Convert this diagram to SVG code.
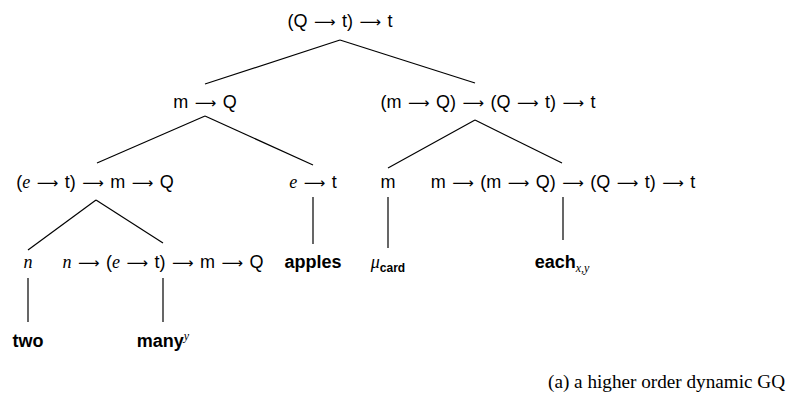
<svg xmlns="http://www.w3.org/2000/svg" width="787" height="403" viewBox="0 0 787 403">
<style>
text{font-family:"Liberation Sans",Arial,sans-serif;font-size:18px;fill:#000;text-anchor:middle;word-spacing:1.5px}
.a{font-family:"DejaVu Sans",sans-serif;font-size:15px}
.i{font-family:"Liberation Serif","Times New Roman",serif;font-style:italic}
.b{font-weight:bold}
.s{font-size:12px}
.cap{font-family:"Liberation Serif","Times New Roman",serif;font-size:19.2px;text-anchor:start;word-spacing:0}
line{stroke:#000;stroke-width:1.2}
</style>
<g id="connectors">
<line x1="340" y1="40" x2="205" y2="84"/>
<line x1="340" y1="40" x2="475" y2="83"/>
<line x1="205" y1="116" x2="97" y2="163"/>
<line x1="205" y1="116" x2="313" y2="165"/>
<line x1="475" y1="120" x2="388" y2="168"/>
<line x1="475" y1="120" x2="562" y2="163"/>
<line x1="96" y1="200" x2="28" y2="250"/>
<line x1="96" y1="200" x2="163" y2="243"/>
<line x1="313" y1="197" x2="313" y2="244"/>
<line x1="388" y1="197" x2="388" y2="248"/>
<line x1="563" y1="197" x2="563" y2="240"/>
<line x1="28" y1="278" x2="28" y2="322"/>
<line x1="163" y1="278" x2="163" y2="322"/>
</g>
<g id="root"><text x="340" y="27">(Q <tspan class="a">⟶</tspan> t) <tspan class="a">⟶</tspan> t</text></g>
<g id="n1"><text x="205" y="108">m <tspan class="a">⟶</tspan> Q</text></g>
<g id="n2"><text x="488" y="108">(m <tspan class="a">⟶</tspan> Q) <tspan class="a">⟶</tspan> (Q <tspan class="a">⟶</tspan> t) <tspan class="a">⟶</tspan> t</text></g>
<g id="n3"><text x="95" y="188">(<tspan class="i">e</tspan> <tspan class="a">⟶</tspan> t) <tspan class="a">⟶</tspan> m <tspan class="a">⟶</tspan> Q</text></g>
<g id="n4"><text x="313" y="188"><tspan class="i">e</tspan> <tspan class="a">⟶</tspan> t</text></g>
<g id="n5"><text x="388" y="188">m</text></g>
<g id="n6"><text x="563" y="188">m <tspan class="a">⟶</tspan> (m <tspan class="a">⟶</tspan> Q) <tspan class="a">⟶</tspan> (Q <tspan class="a">⟶</tspan> t) <tspan class="a">⟶</tspan> t</text></g>
<g id="n7"><text x="28" y="268" class="i">n</text></g>
<g id="n8"><text x="163" y="268"><tspan class="i">n</tspan> <tspan class="a">⟶</tspan> (<tspan class="i">e</tspan> <tspan class="a">⟶</tspan> t) <tspan class="a">⟶</tspan> m <tspan class="a">⟶</tspan> Q</text></g>
<g id="n9"><text x="313" y="268" class="b">apples</text></g>
<g id="n10"><text x="388" y="268"><tspan class="i">μ</tspan><tspan class="b s" dy="4">card</tspan></text></g>
<g id="n11"><text x="562" y="268"><tspan class="b">each</tspan><tspan class="i s" dy="4">x,y</tspan></text></g>
<g id="n12"><text x="28" y="347" class="b">two</text></g>
<g id="n13"><text x="163" y="347"><tspan class="b">many</tspan><tspan class="i s" dy="-7">y</tspan></text></g>
<g id="caption"><text x="548" y="388" class="cap">(a) a higher order dynamic GQ</text></g>
</svg>
